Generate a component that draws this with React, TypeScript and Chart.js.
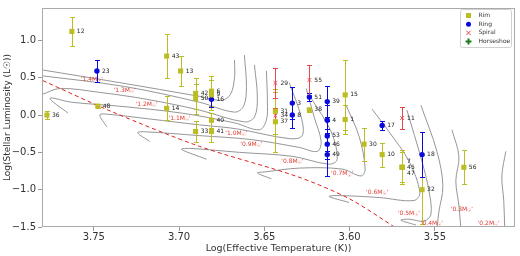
import React, { useEffect, useRef } from "react";
import { Chart, registerables } from "chart.js";
Chart.register(...registerables);

// ---------- axis ticks ----------
const xTicks = [3.55, 3.6, 3.65, 3.7, 3.75];
const yTicks = [-1.5, -1.0, -0.5, 0.0, 0.5, 1.0];

// ---------- Rim ----------
const rimIds = ["36", "12", "48", "43", "13", "14", "42", "50", "6", "9", "40", "33", "41", "31", "37", "38", "15", "1", "30", "10", "7", "45", "47", "32", "56"];
const rimX = [3.7775, 3.7629, 3.7477, 3.7073, 3.6991, 3.7073, 3.6903, 3.6903, 3.681, 3.681, 3.681, 3.6903, 3.681, 3.6435, 3.6435, 3.6236, 3.6026, 3.6026, 3.5915, 3.5809, 3.5692, 3.5692, 3.5692, 3.5575, 3.533];
const rimY = [0.0, 1.12, 0.12, 0.79, 0.59, 0.09, 0.29, 0.22, 0.32, 0.27, -0.07, -0.22, -0.22, 0.05, -0.09, 0.07, 0.27, -0.06, -0.39, -0.53, -0.7, -0.7, -0.7, -1.0, -0.7];
const rimErr = [0.05, 0.2, 0.03, 0.29, 0.2, 0.16, 0.21, 0.2, 0.2, 0.2, 0.1, 0.14, 0.14, 0.3, 0.4, 0.03, 0.47, 0.2, 0.22, 0.16, 0.23, 0.2, 0.2, 0.46, 0.23];

// ---------- Ring ----------
const ringIds = ["23", "16", "3", "8", "51", "39", "4", "53", "46", "49", "17", "18"];
const ringX = [3.7482, 3.681, 3.6336, 3.6336, 3.6236, 3.6131, 3.6131, 3.6131, 3.6131, 3.6131, 3.5809, 3.5575];
const ringY = [0.59, 0.21, 0.16, 0.0, 0.24, 0.18, -0.07, -0.28, -0.39, -0.53, -0.14, -0.53];
const ringErr = [0.15, 0.1, 0.21, 0.17, 0.05, 0.21, 0.2, 0.2, 0.2, 0.29, 0.06, 0.3];

// ---------- Spiral ----------
const spiralIds = ["29", "34", "55", "11"];
const spiralX = [3.6435, 3.6435, 3.6236, 3.5692];
const spiralY = [0.43, -0.01, 0.47, -0.04];
const spiralErr = [0.2, 0.1, 0.2, 0.15];

const legendNames = ["Rim", "Ring", "Spiral", "Horseshoe"];

// label vertical nudges (px) for coincident points
const labelNudge: Record<string, number> = { "7": -6, "47": 6 };

// ---------- evolutionary tracks [logT, logL] ----------
const track14 = [[3.7804, 0.605], [3.7348, 0.434], [3.688, 0.25], [3.6751, 0.197], [3.6699, 0.276], [3.6675, 0.5], [3.6675, 0.737]];
const track13 = [[3.7804, 0.526], [3.7319, 0.382], [3.688, 0.171], [3.6675, 0.039], [3.6622, 0.118], [3.6605, 0.368], [3.6617, 0.803]];
const track12 = [[3.7804, 0.276], [3.7699, 0.355], [3.7465, 0.303], [3.719, 0.211], [3.688, 0.066], [3.6617, -0.092], [3.6558, -0.026], [3.6541, 0.237], [3.6558, 0.671]];
const track11 = [[3.7652, 0.026], [3.7757, 0.224], [3.7629, 0.171], [3.7348, 0.118], [3.6985, 0.026], [3.6675, -0.105], [3.6529, -0.197], [3.6488, -0.066], [3.6482, 0.171], [3.6488, 0.592]];
const track10 = [[3.7424, -0.158], [3.7465, 0.0], [3.743, 0.013], [3.7172, -0.053], [3.688, -0.132], [3.6664, -0.184], [3.6354, -0.316], [3.6278, -0.276], [3.6284, -0.026], [3.6354, 0.434]];
const track09 = [[3.7172, -0.355], [3.7243, -0.237], [3.7202, -0.224], [3.688, -0.276], [3.6576, -0.329], [3.6295, -0.434], [3.619, -0.487], [3.6167, -0.355], [3.6208, -0.026], [3.6254, 0.355]];
const track08 = [[3.6839, -0.592], [3.6985, -0.461], [3.6939, -0.447], [3.6646, -0.5], [3.6336, -0.553], [3.612, -0.658], [3.6073, -0.592], [3.6108, -0.224], [3.6225, 0.224]];
const track07 = [[3.6459, -0.855], [3.6541, -0.776], [3.65, -0.763], [3.6295, -0.711], [3.6044, -0.724], [3.5933, -0.816], [3.5909, -0.724], [3.5944, -0.289], [3.6021, 0.132]];
const track06 = [[3.6003, -1.171], [3.612, -1.092], [3.6061, -1.079], [3.5827, -1.105], [3.5623, -1.145], [3.5588, -1.039], [3.5652, -0.618], [3.5769, -0.224], [3.5868, 0.079]];
const track05 = [[3.5611, -1.474], [3.5699, -1.408], [3.5652, -1.395], [3.5564, -1.421], [3.5523, -1.329], [3.5535, -1.013], [3.5576, -0.618], [3.5664, 0.066]];
const track04 = [[3.5582, 0.132], [3.5488, -0.487], [3.5453, -0.947], [3.5477, -1.303], [3.5488, -1.54]];
const track03 = [[3.54, -0.197], [3.5359, -0.553], [3.5377, -0.882], [3.5359, -1.211], [3.5347, -1.54]];
const track02 = [[3.5084, -0.487], [3.5107, -0.816], [3.5096, -1.145], [3.509, -1.54]];

// ---------- ZAMS dashed line ----------
const zamsX = [3.7798, 3.7389, 3.688, 3.6313, 3.6003, 3.571];
const zamsY = [0.46, 0.04, -0.42, -0.82, -1.12, -1.54];

// ---------- mass labels ----------
const massNames = ["1.4", "1.3", "1.2", "1.1", "1.0", "0.9", "0.8", "0.7", "0.6", "0.5", "0.4", "0.3", "0.2"];
const massX = [3.7512, 3.7319, 3.719, 3.6997, 3.6664, 3.6576, 3.6336, 3.6044, 3.5839, 3.5652, 3.5518, 3.5342, 3.5184];
const massY = [0.474, 0.329, 0.145, -0.04, -0.25, -0.395, -0.618, -0.789, -1.04, -1.316, -1.447, -1.263, -1.447];

const RIM = "#bcbd22";
const RING = "#0a0adc";
const SPIRAL = "#e5484d";
const HORSE = "#1e7a1e";
const TRACK = "#8a8a8a";
const MASS = "#e03c31";
const FONT = "DejaVu Sans";

const tracks = [track14, track13, track12, track11, track10, track09, track08, track07, track06, track05, track04, track03, track02];

const zip = (xs: number[], ys: number[]) => xs.map((v, i) => ({ x: v, y: ys[i] }));

const groups = [
  { ids: rimIds, xs: rimX, ys: rimY, errs: rimErr, color: RIM },
  { ids: ringIds, xs: ringX, ys: ringY, errs: ringErr, color: RING },
  { ids: spiralIds, xs: spiralX, ys: spiralY, errs: spiralErr, color: SPIRAL },
];

const overlay = {
  id: "overlay",
  beforeDatasetDraw(chart: any, args: any) {
    if (args.index !== 2) return;
    const { ctx, chartArea, scales } = chart;
    const sx = scales.x, sy = scales.y;
    ctx.save();
    ctx.beginPath();
    ctx.rect(chartArea.left, chartArea.top, chartArea.right - chartArea.left, chartArea.bottom - chartArea.top);
    ctx.clip();
    ctx.lineWidth = 1;
    for (const g of groups) {
      ctx.strokeStyle = g.color;
      g.xs.forEach((xv, i) => {
        const px = Math.round(sx.getPixelForValue(xv)) + 0.5;
        const top = Math.round(sy.getPixelForValue(g.ys[i] + g.errs[i])) + 0.5;
        const bot = Math.round(sy.getPixelForValue(g.ys[i] - g.errs[i])) + 0.5;
        ctx.beginPath();
        ctx.moveTo(px, top);
        ctx.lineTo(px, bot);
        ctx.moveTo(px - 2.5, top);
        ctx.lineTo(px + 2.5, top);
        ctx.moveTo(px - 2.5, bot);
        ctx.lineTo(px + 2.5, bot);
        ctx.stroke();
      });
    }
    ctx.restore();
  },
  afterDatasetsDraw(chart: any) {
    const { ctx, chartArea, scales } = chart;
    const sx = scales.x, sy = scales.y;
    ctx.save();
    // point labels
    ctx.font = `6px "${FONT}"`;
    ctx.fillStyle = "#222";
    ctx.textAlign = "left";
    ctx.textBaseline = "middle";
    for (const g of groups) {
      g.xs.forEach((xv, i) => {
        const px = sx.getPixelForValue(xv);
        const py = sy.getPixelForValue(g.ys[i]) + (labelNudge[g.ids[i]] || 0);
        ctx.fillText(g.ids[i], px + 5, py);
      });
    }
    // mass labels
    ctx.fillStyle = MASS;
    massNames.forEach((m, i) => {
      const px = sx.getPixelForValue(massX[i]);
      const py = sy.getPixelForValue(massY[i]);
      const a = `'${m}M`;
      ctx.font = `6px "${FONT}"`;
      const wa = ctx.measureText(a).width;
      const wq = ctx.measureText("'").width;
      ctx.font = `4.5px "${FONT}"`;
      const ws = ctx.measureText("☉").width;
      const total = wa + ws + wq;
      let cx = px - total / 2;
      ctx.font = `6px "${FONT}"`;
      ctx.fillText(a, cx, py);
      cx += wa;
      ctx.font = `4.5px "${FONT}"`;
      ctx.fillText("☉", cx, py + 1.5);
      cx += ws;
      ctx.font = `6px "${FONT}"`;
      ctx.fillText("'", cx, py);
    });
    // frame
    ctx.strokeStyle = "#aaaaaa";
    ctx.lineWidth = 1;
    ctx.strokeRect(chartArea.left + 0.5, chartArea.top + 0.5, chartArea.right - chartArea.left - 1, chartArea.bottom - chartArea.top - 1);
    // legend
    const w = 51, h = 38;
    const x0 = chartArea.right - w - 3.5;
    const y0 = chartArea.top + 1.5;
    ctx.fillStyle = "rgba(255,255,255,0.85)";
    ctx.strokeStyle = "#d0d0d0";
    ctx.beginPath();
    (ctx as any).roundRect(x0, y0, w, h, 2);
    ctx.fill();
    ctx.stroke();
    legendNames.forEach((name, i) => {
      const cy = y0 + 6 + i * 8.7;
      const mx = x0 + 8;
      if (i === 0) {
        ctx.fillStyle = RIM;
        ctx.fillRect(mx - 2.5, cy - 2.5, 5, 5);
      } else if (i === 1) {
        ctx.fillStyle = RING;
        ctx.beginPath();
        ctx.arc(mx, cy, 2.5, 0, Math.PI * 2);
        ctx.fill();
      } else if (i === 2) {
        ctx.strokeStyle = SPIRAL;
        ctx.lineWidth = 1;
        ctx.beginPath();
        ctx.moveTo(mx - 2.2, cy - 2.2);
        ctx.lineTo(mx + 2.2, cy + 2.2);
        ctx.moveTo(mx + 2.2, cy - 2.2);
        ctx.lineTo(mx - 2.2, cy + 2.2);
        ctx.stroke();
      } else {
        ctx.strokeStyle = HORSE;
        ctx.lineWidth = 2;
        ctx.beginPath();
        ctx.moveTo(mx - 3, cy);
        ctx.lineTo(mx + 3, cy);
        ctx.moveTo(mx, cy - 3);
        ctx.lineTo(mx, cy + 3);
        ctx.stroke();
      }
      ctx.fillStyle = "#333";
      ctx.font = `6px "${FONT}"`;
      ctx.textAlign = "left";
      ctx.textBaseline = "middle";
      ctx.fillText(name, x0 + 18, cy);
    });
    ctx.restore();
  },
};

export default function App() {
  const ref = useRef<HTMLCanvasElement | null>(null);
  useEffect(() => {
    document.body.style.margin = "0";
    if (!ref.current) return;
    Chart.defaults.font.family = FONT;
    const datasets: any[] = [
      { label: "Rim", data: zip(rimX, rimY), pointStyle: "rect", pointRadius: 3.6, backgroundColor: RIM, borderWidth: 0, showLine: false },
      { label: "Ring", data: zip(ringX, ringY), pointStyle: "circle", pointRadius: 2.7, backgroundColor: RING, borderWidth: 0, showLine: false },
      { label: "Spiral", data: zip(spiralX, spiralY), pointStyle: "crossRot", pointRadius: 2.6, borderColor: SPIRAL, backgroundColor: SPIRAL, borderWidth: 1, showLine: false },
      { label: "ZAMS", data: zip(zamsX, zamsY), showLine: true, pointRadius: 0, borderColor: "#e02020", borderWidth: 1, borderDash: [4, 3], tension: 0.3 },
      ...tracks.map((t, i) => ({
        label: "track" + i,
        data: t.map((p) => ({ x: p[0], y: p[1] })),
        showLine: true,
        pointRadius: 0,
        borderColor: TRACK,
        borderWidth: 0.9,
        tension: 0.35,
      })),
    ];
    const chart = new Chart(ref.current, {
      type: "scatter",
      data: { datasets },
      plugins: [overlay],
      options: {
        animation: false,
        responsive: false,
        devicePixelRatio: 1,
        layout: { padding: { top: 4, right: 4, left: 0, bottom: 0 } },
        plugins: { legend: { display: false }, tooltip: { enabled: false } },
        scales: {
          x: {
            type: "linear",
            reverse: true,
            min: 3.503,
            max: 3.7804,
            afterBuildTicks: (s: any) => { s.ticks = xTicks.map((v) => ({ value: v })); },
            afterFit: (s: any) => { s.height = 29; },
            ticks: { callback: (v: any) => Number(v).toFixed(2), color: "#333", font: { size: 10 }, padding: 0, maxRotation: 0 },
            grid: { drawOnChartArea: false, drawTicks: true, tickLength: 4, color: "#999" },
            border: { display: false },
            title: { display: true, text: "Log(Effective Temperature (K))", color: "#333", font: { size: 9.5 }, padding: { top: 0, bottom: 2 } },
          },
          y: {
            type: "linear",
            min: -1.5,
            max: 1.434,
            afterBuildTicks: (s: any) => { s.ticks = yTicks.map((v) => ({ value: v })); },
            afterFit: (s: any) => { s.width = 42; },
            ticks: { callback: (v: any) => (Number(v) < 0 ? "\u2212" : "") + Math.abs(Number(v)).toFixed(1), color: "#333", font: { size: 10 }, padding: 2 },
            grid: { drawOnChartArea: false, drawTicks: true, tickLength: 4, color: "#999" },
            border: { display: false },
            title: { display: true, text: "Log(Stellar Luminosity (L\u2609))", color: "#333", font: { size: 9 }, padding: { top: 2, bottom: 0 } },
          },
        },
      } as any,
    });
    return () => chart.destroy();
  }, []);
  return (
    <div style={{ width: 520, height: 256 }}>
      <canvas ref={ref} width={520} height={256} style={{ display: "block" }} />
    </div>
  );
}
